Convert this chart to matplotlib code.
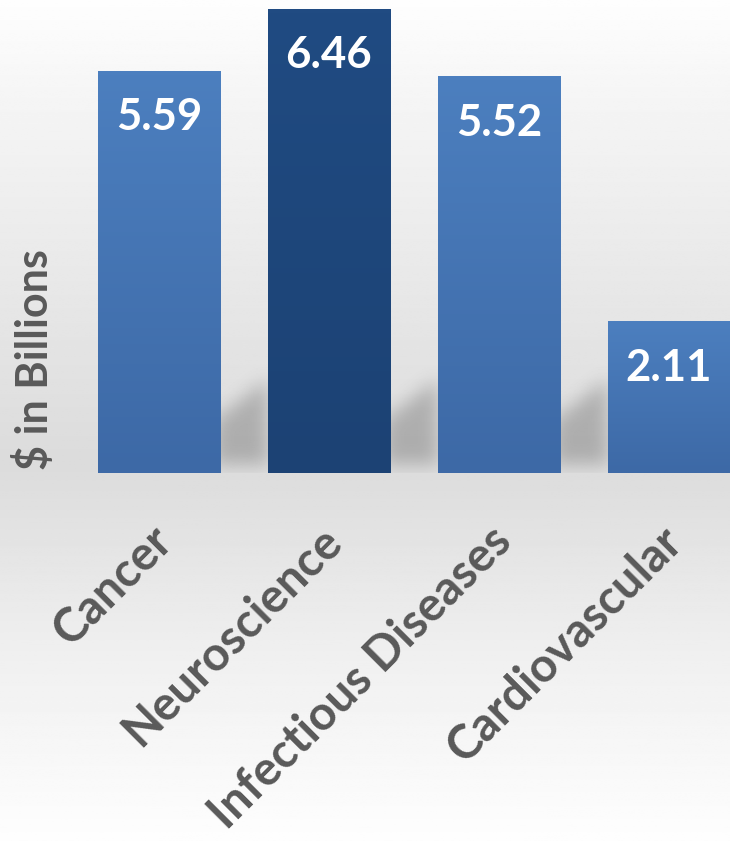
import numpy as np
import matplotlib.pyplot as plt
from matplotlib.path import Path
from matplotlib.colors import to_rgb

categories = ['Cancer', 'Neuroscience', 'Infectious Diseases', 'Cardiovascular']
values = [5.59, 6.46, 5.52, 2.11]
highlight = 'Neuroscience'
ylabel = '$ in Billions'

FONT = ['Lato', 'DejaVu Sans']
TEXT_GREY = '#595959'
BAR_TOP, BAR_BOTTOM = '#4c7fbf', '#3d69a6'
HI_TOP, HI_BOTTOM = '#204b82', '#1c4274'
BAR_W = 0.718

fig = plt.figure(figsize=(7.3, 8.41), dpi=100)

# soft grey backdrop, lighter at the top and bottom
bg = fig.add_axes([0, 0, 1, 1])
bg.set_axis_off()
rows = np.linspace(0, 1, 400)
shade = np.interp(rows, [0.0, 0.12, 0.55, 0.78, 1.0], [0.995, 0.96, 0.86, 0.94, 0.995])
bg.imshow(np.repeat(shade[:, None], 2, axis=1), cmap='gray', vmin=0, vmax=1,
          extent=(0, 1, 0, 1), aspect='auto', origin='upper')
bg.set_xlim(0, 1)
bg.set_ylim(0, 1)

ax = fig.add_axes([0, 1 - 473 / 841, 1, 473 / 841])
ax.set_facecolor('none')
x = np.arange(len(categories))
xlim = (-0.935, 3.359)
ylim = (0, 473 / 71.9)
ax.set_xlim(*xlim)
ax.set_ylim(*ylim)

# blurred drop shadows in the gaps between bars
gx = np.linspace(xlim[0], xlim[1], 730)
gy = np.linspace(ylim[0], ylim[1], 473)
GX, GY = np.meshgrid(gx, gy)
pts = np.column_stack([GX.ravel(), GY.ravel()])
mask = np.zeros(GX.shape)
for i in x[1:]:
    left = i - BAR_W / 2
    poly = Path([(left, 0.12), (left, 1.3), (left - 0.32, 0.72), (left - 0.32, 0.12)])
    mask = np.maximum(mask, poly.contains_points(pts).reshape(GX.shape).astype(float))
kern = np.ones(17) / 17
for _ in range(3):
    mask = np.apply_along_axis(lambda r: np.convolve(r, kern, mode='same'), 1, mask)
    mask = np.apply_along_axis(lambda c: np.convolve(c, kern, mode='same'), 0, mask)
shadow = np.zeros(GX.shape + (4,))
shadow[..., :3] = 0.25
shadow[..., 3] = mask * 0.3
ax.imshow(shadow, extent=(*xlim, *ylim), origin='lower', aspect='auto', zorder=1)

bars = ax.bar(x, values, width=BAR_W, color=BAR_TOP, zorder=2, linewidth=0)

# vertical colour gradient inside each bar
for cat, bar, v in zip(categories, bars, values):
    top, bottom = (HI_TOP, HI_BOTTOM) if cat == highlight else (BAR_TOP, BAR_BOTTOM)
    t = np.linspace(1, 0, 100)[:, None, None]
    grad = np.array(to_rgb(top)) * t + np.array(to_rgb(bottom)) * (1 - t)
    im = ax.imshow(grad, extent=(bar.get_x(), bar.get_x() + bar.get_width(), 0, v),
                   aspect='auto', origin='upper', zorder=3)
    im.set_clip_path(bar)
    ax.annotate(f'{v:.2f}', (bar.get_x() + bar.get_width() / 2, v), xytext=(0, -19),
                textcoords='offset points', ha='center', va='top', color='white',
                fontsize=31.5, fontweight='bold', family=FONT, zorder=4)

# slanted category names under the bars
for xi, cat in zip(x, categories):
    ax.annotate(cat, (xi, 0), xytext=(4, -44), textcoords='offset points',
                rotation=45, rotation_mode='anchor', ha='right', va='center',
                fontsize=34, fontweight='bold', family=FONT, color=TEXT_GREY,
                annotation_clip=False)

ax.set_xticks([])
ax.set_yticks([])
for s in ax.spines.values():
    s.set_visible(False)

fig.text(34 / 730, 1 - 360 / 841, ylabel, rotation=90, ha='center', va='center',
         fontsize=31, fontweight='bold', family=FONT, color=TEXT_GREY)

fig.savefig('out.png', dpi=100)
